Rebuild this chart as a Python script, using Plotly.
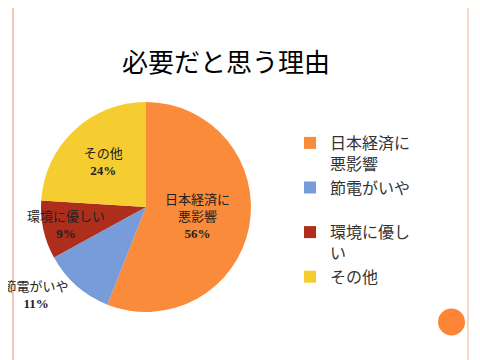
import plotly.graph_objects as go

# data
categories = ["日本経済に悪影響", "節電がいや", "環境に優しい", "その他"]
slice_text = ["日本経済に<br>悪影響", "節電がいや", "環境に優しい", "その他"]
legend_labels = ["日本経済に<br>悪影響", "節電がいや<br>\u3000", "環境に優し<br>い", "その他"]
values = [56, 11, 9, 24]
colors = ["#F98B3A", "#789CDA", "#AD2E1B", "#F6CD30"]

FONT = "Liberation Serif, Noto Sans CJK JP, serif"

fig = go.Figure()
fig.add_trace(go.Pie(
    labels=legend_labels,
    values=values,
    customdata=slice_text,
    sort=False,
    direction="clockwise",
    rotation=0,
    marker=dict(colors=colors, line=dict(width=0)),
    texttemplate="%{customdata}<br><b>%{percent}</b>",
    textposition=["inside", "outside", "inside", "inside"],
    insidetextorientation="horizontal",
    textfont=dict(family=FONT, size=13, color="#222222"),
    insidetextfont=dict(family=FONT, size=13, color="#222222"),
    outsidetextfont=dict(family=FONT, size=11.5, color="#222222"),
    domain=dict(x=[0.0, 0.575], y=[56/360, 266/360]),
    automargin=False,
    hoverinfo="label+percent",
))

shapes = [
    # left border line
    dict(type="rect", xref="paper", yref="paper", x0=4/480, x1=6/480, y0=0, y1=1,
         fillcolor="#F8C6B8", line=dict(width=0), layer="below"),
    # right border bands
    dict(type="rect", xref="paper", yref="paper", x0=459/480, x1=461/480, y0=0, y1=1,
         fillcolor="#F6D8C8", line=dict(width=0), layer="below"),
    dict(type="rect", xref="paper", yref="paper", x0=464/480, x1=1, y0=0, y1=1,
         fillcolor="#FDCBB6", line=dict(width=0), layer="below"),
    dict(type="rect", xref="paper", yref="paper", x0=467.5/480, x1=468.8/480, y0=0, y1=1,
         fillcolor="#F2915F", line=dict(width=0), layer="below"),
    # orange circle decoration
    dict(type="circle", xref="paper", yref="paper",
         x0=(443.5-13.5)/480, x1=(443.5+13.5)/480,
         y0=1-(314+13.5)/360, y1=1-(314-13.5)/360,
         fillcolor="#FD8535", line=dict(width=0)),
]

fig.update_layout(
    width=480, height=360,
    margin=dict(l=0, r=0, t=0, b=0, autoexpand=False),
    paper_bgcolor="white", plot_bgcolor="white",
    title=dict(text="必要だと思う理由", x=218/480, xanchor="center",
               y=1-55/360, yanchor="middle",
               font=dict(family=FONT, size=26, color="#000000")),
    legend=dict(x=282/480, xanchor="left", y=1-118/360, yanchor="top",
                font=dict(family=FONT, size=16, color="#333333"),
                valign="top", bgcolor="rgba(0,0,0,0)"),
    uniformtext=dict(minsize=13, mode="show"),
    shapes=shapes,
)

fig.write_html("out.html")
